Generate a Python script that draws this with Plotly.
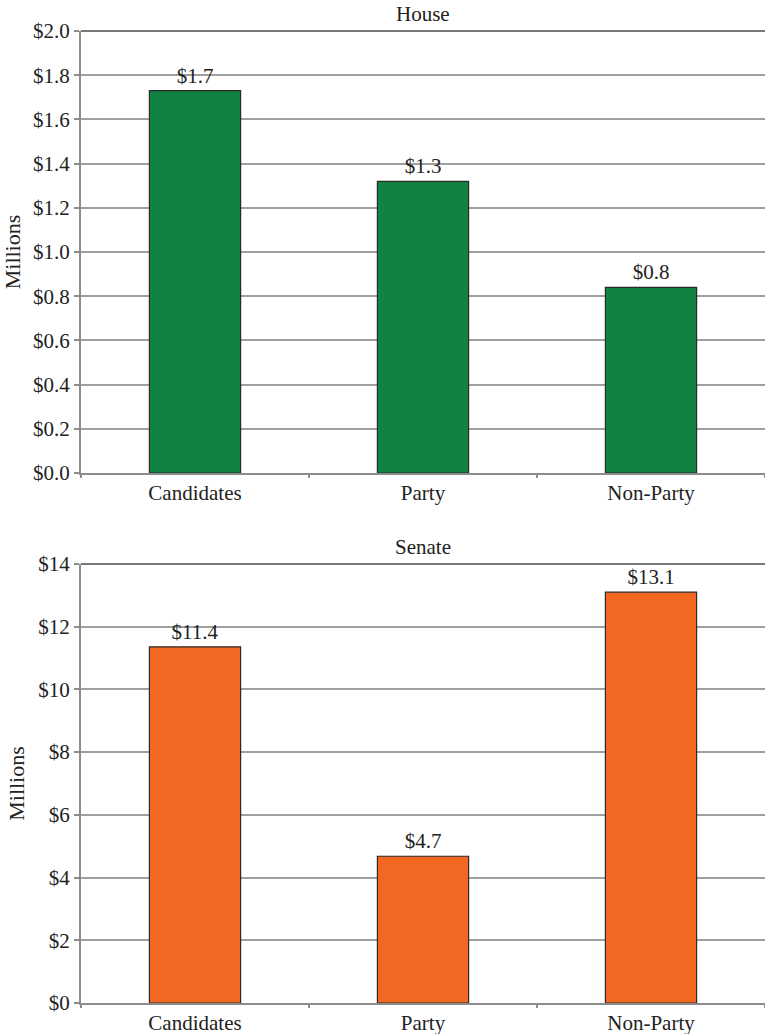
import plotly.graph_objects as go

categories = ["Candidates", "Party", "Non-Party"]
house_values = [1.73, 1.32, 0.84]
senate_values = [11.36, 4.68, 13.1]
house_title = "House"
senate_title = "Senate"
y_title = "Millions"

FONT = "Liberation Serif"
GREEN = "#118241"
ORANGE = "#F26722"
GRID = "#a0a0a0"
AXIS = "#8c8c8c"
FS = 21

fig = go.Figure()
fig.add_trace(go.Bar(
    x=categories, y=house_values, xaxis="x", yaxis="y",
    marker=dict(color=GREEN, line=dict(color="#2a2a2a", width=1.2)),
    width=0.4, text=[f"${v:.1f}" for v in house_values], textposition="outside",
    textfont=dict(family=FONT, size=FS, color="#222"), cliponaxis=False,
))
fig.add_trace(go.Bar(
    x=categories, y=senate_values, xaxis="x2", yaxis="y2",
    marker=dict(color=ORANGE, line=dict(color="#2a2a2a", width=1.2)),
    width=0.4, text=[f"${v:.1f}" for v in senate_values], textposition="outside",
    textfont=dict(family=FONT, size=FS, color="#222"), cliponaxis=False,
))

H = 1034
top, bot = 31, 31
ph = H - top - bot
def frac(px):
    return (H - bot - px) / ph

xcommon = dict(showline=True, linecolor=AXIS, linewidth=2, ticks="outside",
               tickson="boundaries", ticklen=3, tickcolor=AXIS, tickwidth=1.5,
               showgrid=False, tickfont=dict(family=FONT, size=FS, color="#222"),
               mirror=False, automargin=False)
ycommon = dict(showline=True, linecolor=AXIS, linewidth=2, ticks="outside",
               ticklen=5, tickcolor=AXIS, tickwidth=1.5, showgrid=True,
               gridcolor=GRID, gridwidth=1.5, zeroline=False,
               tickfont=dict(family=FONT, size=FS, color="#222"),
               tickprefix="$", automargin=False,
               title=dict(text=y_title, font=dict(family=FONT, size=22, color="#222"), standoff=8))

fig.update_layout(
    width=765, height=H,
    margin=dict(l=81, r=0, t=top, b=bot),
    paper_bgcolor="white", plot_bgcolor="white",
    showlegend=False, bargap=0.6,
    xaxis=dict(domain=[0, 1], anchor="y", **xcommon),
    yaxis=dict(domain=[frac(473), 1], anchor="x", range=[0, 2.0], dtick=0.2,
               tickformat=".1f", **ycommon),
    xaxis2=dict(domain=[0, 1], anchor="y2", **xcommon),
    yaxis2=dict(domain=[0, frac(564)], anchor="x2", range=[0, 14], dtick=2,
                tickformat="d", **ycommon),
    annotations=[
        dict(text=house_title, x=0.5, xref="x domain", y=1, yref="y domain",
             yshift=3, yanchor="bottom", showarrow=False,
             font=dict(family=FONT, size=FS, color="#222")),
        dict(text=senate_title, x=0.5, xref="x2 domain", y=1, yref="y2 domain",
             yshift=3, yanchor="bottom", showarrow=False,
             font=dict(family=FONT, size=FS, color="#222")),
    ],
)
for yr, xr in [("y domain", "x domain"), ("y2 domain", "x2 domain")]:
    fig.add_shape(type="line", xref=xr, yref=yr, x0=0, x1=1, y0=1, y1=1,
                  line=dict(color="#777", width=2))

fig.write_html("out.html", config={"displayModeBar": False},
               post_script="document.body.style.margin='0';document.body.style.overflow='hidden';")
